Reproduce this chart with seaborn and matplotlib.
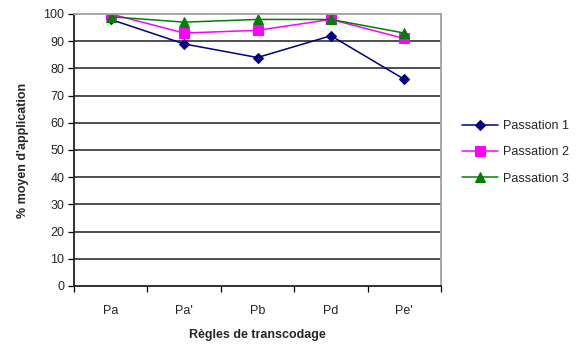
import matplotlib
matplotlib.use("Agg")
import matplotlib.pyplot as plt
import seaborn as sns
import pandas as pd

categories = ["Pa", "Pa'", "Pb", "Pd", "Pe'"]
passation1 = [98, 89, 84, 92, 76]
passation2 = [100, 93, 94, 98, 91]
passation3 = [99, 97, 98, 98, 93]
series_names = ["Passation 1", "Passation 2", "Passation 3"]
yticks = list(range(0, 101, 10))

sns.set_theme(style="white")
plt.rcParams['font.family'] = ['Liberation Sans', 'DejaVu Sans']

rows = []
for name, vals in zip(series_names, [passation1, passation2, passation3]):
    for i, (c, v) in enumerate(zip(categories, vals)):
        rows.append({"x": i, "cat": c, "val": v, "serie": name})
df = pd.DataFrame(rows)

fig = plt.figure(figsize=(5.81, 3.45), dpi=100)
ax = fig.add_axes([74/581, 1-286/345, (441-74)/581, (286-14)/345])

colors = {"Passation 1": "#000080", "Passation 2": "#FF00FF", "Passation 3": "#008000"}
markers = {"Passation 1": "D", "Passation 2": "s", "Passation 3": "^"}
sizes = {"Passation 1": 5.5, "Passation 2": 6.5, "Passation 3": 7.5}

for name in series_names:
    sub = df[df.serie == name]
    sns.lineplot(data=sub, x="x", y="val", ax=ax, color=colors[name],
                 marker=markers[name], markersize=sizes[name], markeredgecolor=colors[name],
                 linewidth=1.1, label=name)

ax.set_xlim(-0.5, len(categories) - 0.5)
ax.set_ylim(0, 100)
ax.set_yticks(yticks)
ax.set_xticks(range(len(categories)))
ax.set_xticklabels(categories)
ax.set_xticks([i - 0.5 for i in range(len(categories) + 1)], minor=True)
for y in yticks[1:-1]:
    ax.axhline(y, color="#404040", linewidth=1.3, zorder=0)

ax.tick_params(axis="x", which="major", length=0, pad=14, labelsize=9)
ax.tick_params(axis="x", which="minor", length=4, width=0.9, color="black", direction="out", bottom=True)
ax.tick_params(axis="y", length=4, width=0.9, color="black", direction="out", left=True, labelsize=9, pad=3)

for s in ["left", "bottom"]:
    ax.spines[s].set_color("#202020")
    ax.spines[s].set_linewidth(1.3)
for s in ["top", "right"]:
    ax.spines[s].set_color("#A0A0A0")
    ax.spines[s].set_linewidth(1.3)

ax.set_xlabel("Règles de transcodage", fontsize=9, fontweight="bold", labelpad=8)
ax.set_ylabel("% moyen d'application", fontsize=9, fontweight="bold", labelpad=10)

leg = ax.legend(loc="upper left", bbox_to_anchor=(457/581, 1-115/345), bbox_transform=fig.transFigure,
                frameon=False, fontsize=9, handlelength=2.9, labelspacing=1.15, borderaxespad=0,
                handletextpad=0.4)

fig.savefig("out.png", dpi=100)
